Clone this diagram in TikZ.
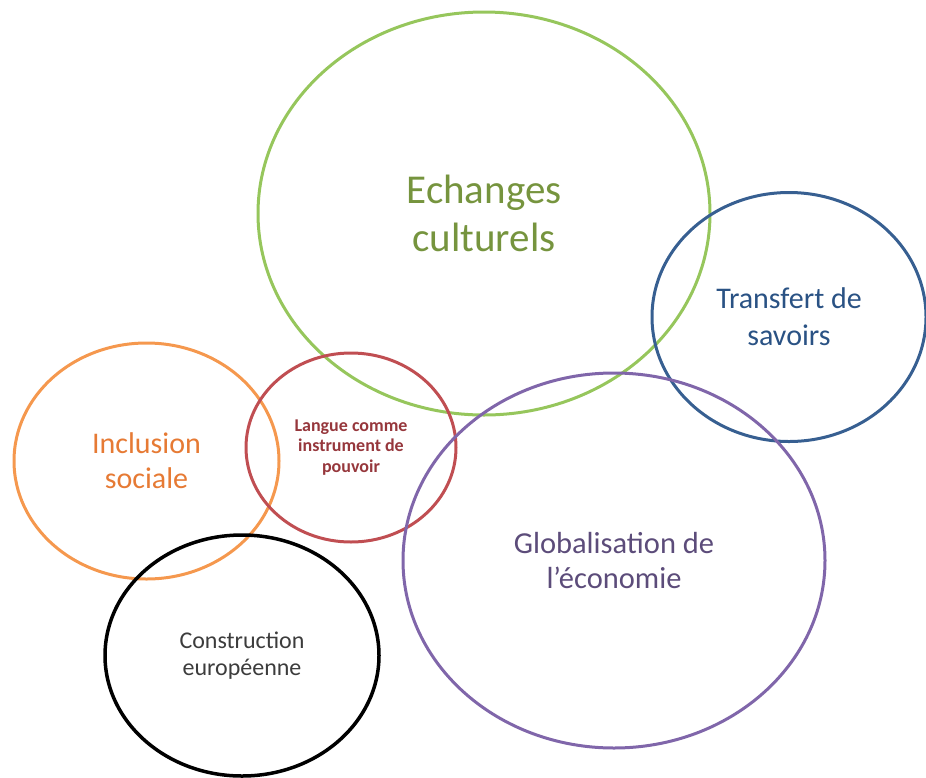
\documentclass[tikz,border=0pt]{standalone}
\usepackage{fontspec}
\setmainfont{Carlito}
\usetikzlibrary{shapes.geometric}
\definecolor{vertligne}{RGB}{150,198,92}
\definecolor{verttexte}{RGB}{118,148,62}
\definecolor{bleuligne}{RGB}{55,95,145}
\definecolor{bleutexte}{RGB}{42,82,132}
\definecolor{orangeligne}{RGB}{245,152,78}
\definecolor{orangetexte}{RGB}{230,122,52}
\definecolor{rougeligne}{RGB}{192,78,82}
\definecolor{rougetexte}{RGB}{150,55,60}
\definecolor{violetligne}{RGB}{128,102,170}
\definecolor{violettexte}{RGB}{92,76,122}
\definecolor{noirtexte}{RGB}{60,60,60}
\tikzset{bulle/.style={draw,ellipse,inner sep=0pt,align=center,line width=3pt}}

\begin{document}
\begin{tikzpicture}[line cap=round,line join=round,x=1pt,y=-1pt]
\useasboundingbox (0,0) rectangle (926,777);
% grande bulle verte
\node[bulle,draw=vertligne,text=verttexte,minimum width=452pt,minimum height=403pt,
  font=\fontsize{41}{48}\selectfont] (echanges) at (484,213.5) {Echanges\\culturels};
% bulle bleue a droite
\node[bulle,draw=bleuligne,text=bleutexte,minimum width=274pt,minimum height=249pt,
  font=\fontsize{30}{37}\selectfont] (transfert) at (789,317) {Transfert de\\savoirs};
% bulle orange
\node[bulle,draw=orangeligne,text=orangetexte,minimum width=265pt,minimum height=236pt,
  font=\fontsize{30}{35}\selectfont] (inclusion) at (146.5,461) {Inclusion\\sociale};
% petite bulle rouge
\node[bulle,draw=rougeligne,text=rougetexte,minimum width=210pt,minimum height=189pt,
  font=\fontsize{18}{20.5}\selectfont\bfseries] (langue) at (351,447.5) {Langue comme\\instrument de\\pouvoir};
% bulle violette
\node[bulle,draw=violetligne,text=violettexte,minimum width=422pt,minimum height=375pt,
  font=\fontsize{30.5}{35}\selectfont] (globalisation) at (614,560.5) {Globalisation de\\l’économie};
% bulle noire
\node[bulle,draw=black,text=noirtexte,line width=3.5pt,minimum width=274pt,minimum height=241pt,
  font=\fontsize{24}{27}\selectfont] (construction) at (242,655.5) {Construction\\européenne};
\end{tikzpicture}
\end{document}
